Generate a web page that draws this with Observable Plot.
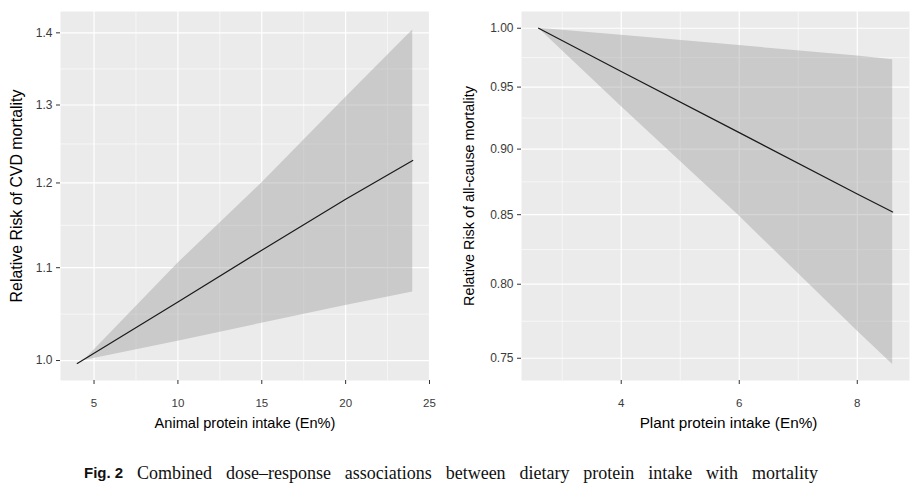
<!DOCTYPE html>
<html>
<head>
<meta charset="utf-8">
<script src="https://cdn.jsdelivr.net/npm/d3@7"></script>
<script src="https://cdn.jsdelivr.net/npm/@observablehq/plot@0.6"></script>
<style>
  html, body { margin: 0; padding: 0; background: #fff; }
  #wrap { position: relative; width: 922px; height: 500px; overflow: hidden; }
  #charts { display: flex; position: absolute; left: 0; top: 0; }
  #caption { position: absolute; left: 84px; top: 463px; width: 734px; display: flex;
             justify-content: space-between; font-family: "Liberation Serif", "Times New Roman", serif;
             font-size: 18px; line-height: 20px; color: #111; white-space: nowrap; }
  #caption .fig { font-family: "Liberation Sans", Arial, sans-serif; font-weight: bold; font-size: 15px; }
</style>
</head>
<body>
<div id="wrap">
  <div id="charts"></div>
  <div id="caption"></div>
</div>
<script>
// ---- Left panel: animal protein vs CVD mortality ----
const animalX      = [4, 10, 15, 20, 24];
const animalRR     = [0.997, 1.062, 1.12, 1.18, 1.228];
const animalBandX  = [4.4, 10, 15, 20, 24];
const animalUpper  = [1.0, 1.105, 1.20, 1.31, 1.404];
const animalLower  = [1.0, 1.020, 1.039, 1.058, 1.073];
const animalXTicks = [5, 10, 15, 20, 25];
const animalXMinor = [7.5, 12.5, 17.5, 22.5];
const animalYTicks = [1.0, 1.1, 1.2, 1.3, 1.4];

// ---- Right panel: plant protein vs all-cause mortality ----
const plantX      = [2.6, 4, 6, 8, 8.6];
const plantRR     = [1.0, 0.963, 0.913, 0.8655, 0.852];
const plantUpper  = [1.0, 0.994, 0.985, 0.976, 0.973];
const plantLower  = [1.0, 0.934, 0.849, 0.768, 0.746];
const plantXTicks = [4, 6, 8];
const plantXMinor = [3, 5, 7];
const plantYTicks = [0.75, 0.80, 0.85, 0.90, 0.95, 1.00];

const captionWords = ["Fig. 2", "Combined", "dose–response", "associations", "between", "dietary", "protein", "intake", "with", "mortality"];

// geometric midpoints between major log ticks (ggplot minor breaks on log scale)
const logMinor = t => d3.pairs(t).map(([a, b]) => Math.sqrt(a * b));

function panel({lineData, bandData, xDomain, yDomain, xTicks, xMinor, yTicks, yFmt,
                xTitle, yTitle, marginRight, xTitleSize, yTitleSize, yTitleDx, xTitleDx}) {
  return Plot.plot({
    width: 461, height: 440,
    marginLeft: 60, marginRight, marginTop: 11, marginBottom: 60,
    style: {fontFamily: "'Liberation Sans', Arial, sans-serif", fontSize: "11px", color: "#333", background: "white"},
    x: {domain: xDomain},
    y: {type: "log", domain: yDomain},
    marks: [
      Plot.frame({fill: "#EBEBEB", stroke: null}),
      Plot.ruleX(xMinor, {stroke: "white", strokeWidth: 0.6}),
      Plot.ruleY(logMinor(yTicks), {stroke: "white", strokeWidth: 0.6}),
      Plot.ruleX(xTicks, {stroke: "white", strokeWidth: 1.2}),
      Plot.ruleY(yTicks, {stroke: "white", strokeWidth: 1.2}),
      Plot.areaY(bandData, {x: "x", y1: "lo", y2: "hi", fill: "#999999", fillOpacity: 0.4}),
      Plot.line(lineData, {x: "x", y: "y", stroke: "#1a1a1a", strokeWidth: 1.2}),
      Plot.axisX(xTicks, {tickSize: 4, tickPadding: 14, label: null, fontSize: 11.5, stroke: "#333", fill: "#3a3a3a"}),
      Plot.axisY(yTicks, {tickSize: 4, label: null, tickFormat: () => "", stroke: "#333"}),
      Plot.text(yTicks, {y: d => d, text: yFmt, frameAnchor: "left", dx: -8, textAnchor: "end", fontSize: 12, fill: "#3a3a3a"}),
      Plot.text([xTitle], {text: d => d, frameAnchor: "bottom", dy: 47, dx: xTitleDx, textAnchor: "middle", fontSize: xTitleSize, fill: "#000"}),
      Plot.text([yTitle], {text: d => d, frameAnchor: "left", dx: yTitleDx, rotate: -90, textAnchor: "middle", fontSize: yTitleSize, fill: "#000"})
    ]
  });
}

const left = panel({
  lineData: animalX.map((x, i) => ({x, y: animalRR[i]})),
  bandData: animalBandX.map((x, i) => ({x, lo: animalLower[i], hi: animalUpper[i]})),
  xDomain: [3, 25], yDomain: [0.9797, 1.431],
  xTicks: animalXTicks, xMinor: animalXMinor, yTicks: animalYTicks, yFmt: d3.format(".1f"),
  xTitle: "Animal protein intake (En%)", yTitle: "Relative Risk of CVD mortality",
  marginRight: 32, xTitleSize: 14.6, yTitleSize: 15.9, yTitleDx: -44, xTitleDx: 0
});

const right = panel({
  lineData: plantX.map((x, i) => ({x, y: plantRR[i]})),
  bandData: plantX.map((x, i) => ({x, lo: plantLower[i], hi: plantUpper[i]})),
  xDomain: [2.31, 8.885], yDomain: [0.7356, 1.0147],
  xTicks: plantXTicks, xMinor: plantXMinor, yTicks: plantYTicks, yFmt: d3.format(".2f"),
  xTitle: "Plant protein intake (En%)", yTitle: "Relative Risk of all-cause mortality",
  marginRight: 13, xTitleSize: 15.3, yTitleSize: 14.4, yTitleDx: -52, xTitleDx: 13
});

document.getElementById("charts").append(left, right);

const cap = document.getElementById("caption");
captionWords.forEach((w, i) => {
  const s = document.createElement("span");
  s.textContent = w;
  if (i === 0) s.className = "fig";
  cap.append(s);
});
</script>
</body>
</html>
